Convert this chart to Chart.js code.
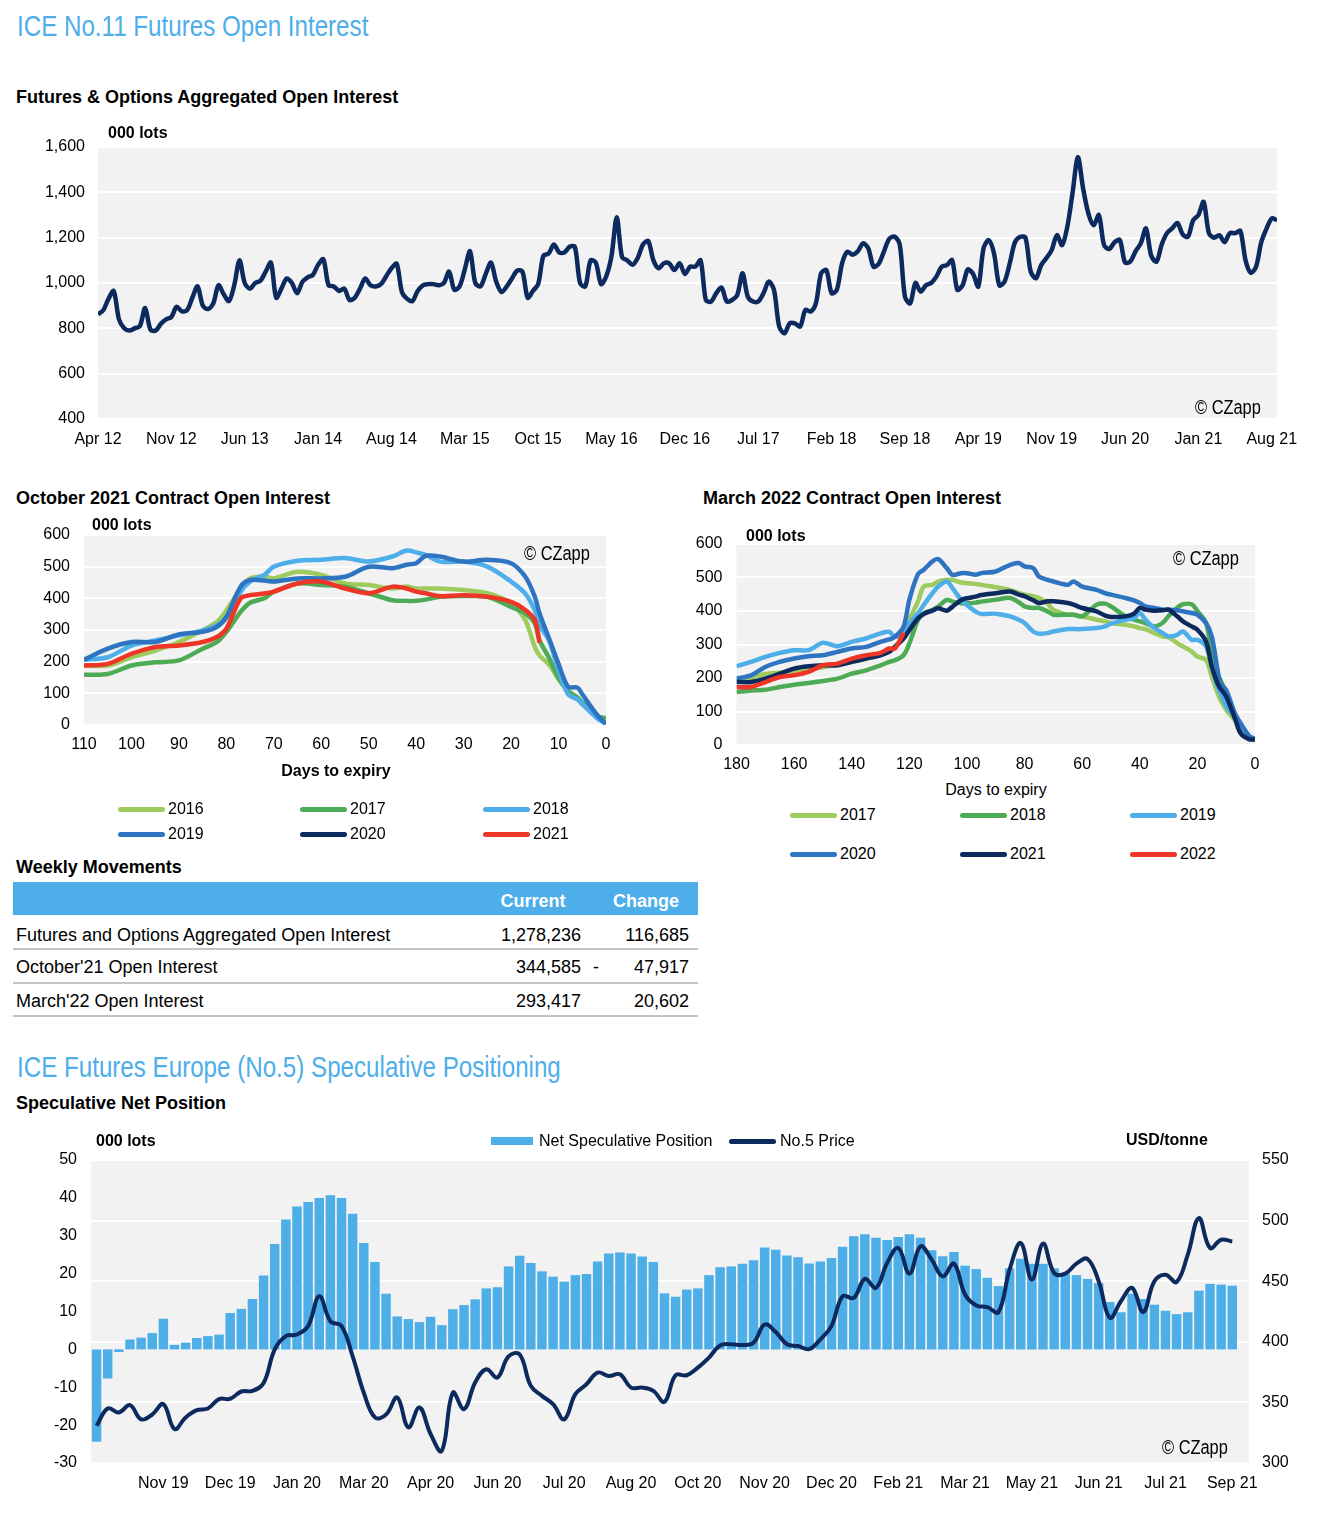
<!DOCTYPE html>
<html>
<head>
<meta charset="utf-8">
<script src="https://cdn.jsdelivr.net/npm/chart.js@4.4.1/dist/chart.umd.min.js"></script>
<style>
  body { margin: 0; background: #fff; }
  #page { position: relative; width: 1318px; height: 1532px; overflow: hidden;
          font-family: "Liberation Sans", Arial, sans-serif; color: #000; }
  .t { position: absolute; white-space: nowrap; line-height: 1; transform: translateY(-50%); }
  .r { transform: translate(-100%, -50%); }
  .c { transform: translate(-50%, -50%); }
  .h1 { font-size: 29px; color: #4DAEEA; transform-origin: 0 50%; transform: translateY(-50%) scaleX(0.833); }
  .h2 { font-weight: bold; font-size: 18px; }
  .u { font-weight: bold; font-size: 16px; }
  .n { font-size: 16px; }
  .cz { font-size: 20px; transform-origin: 0 50%; transform: translateY(-50%) scaleX(0.82); }
  .tb { font-size: 18px; }
  .sw { position: absolute; border-radius: 3px; }
  canvas { position: absolute; }
</style>
</head>
<body>
<div id="page">
  <canvas id="oiChart" width="1318" height="340" style="left:0;top:120px"></canvas>
  <canvas id="octChart" width="650" height="260" style="left:0;top:510px"></canvas>
  <canvas id="marChart" width="638" height="260" style="left:680px;top:520px"></canvas>
  <canvas id="specChart" width="1318" height="360" style="left:0;top:1140px"></canvas>
</div>
<script>
// ---- aggregated open interest, 000 lots, half-monthly from Apr 12
const oiTickLabels = ['Apr 12', 'Nov 12', 'Jun 13', 'Jan 14', 'Aug 14', 'Mar 15', 'Oct 15', 'May 16', 'Dec 16',
  'Jul 17', 'Feb 18', 'Sep 18', 'Apr 19', 'Nov 19', 'Jun 20', 'Jan 21', 'Aug 21']
const oiLots = [
  862, 880, 930, 965, 840, 800, 790, 800, 810, 890,
  795, 790, 820, 840, 850, 895, 875, 880, 935, 985,
  900, 885, 910, 990, 950, 920, 990, 1100, 1000, 975,
  1000, 1010, 1050, 1090, 935, 975, 1020, 1000, 955, 1005,
  1025, 1035, 1080, 1105, 990, 985, 965, 975, 925, 935,
  975, 1020, 990, 985, 995, 1030, 1065, 1085, 960, 930,
  920, 965, 990, 995, 995, 990, 1000, 1050, 970, 985,
  1060, 1140, 1000, 985, 1040, 1090, 1005, 960, 985, 1020,
  1055, 1050, 935, 965, 995, 1120, 1130, 1170, 1135, 1135,
  1160, 1160, 1000, 985, 1100, 1090, 995, 1030, 1120, 1290,
  1115, 1100, 1080, 1110, 1170, 1185, 1100, 1065, 1087, 1087,
  1057, 1087, 1040, 1072, 1072, 1100, 925, 918, 955, 980,
  918, 925, 947, 1043, 940, 918, 918, 955, 1006, 970,
  808, 778, 822, 822, 808, 881, 874, 910, 1043, 1057,
  955, 970, 1087, 1138, 1125, 1140, 1175, 1153, 1072, 1085,
  1140, 1195, 1205, 1170, 940, 910, 1000, 962, 990, 1000,
  1028, 1072, 1079, 1101, 970, 990, 1060, 1040, 984, 1153,
  1189, 1130, 990, 1006, 1087, 1180, 1204, 1200, 1050, 1021,
  1079, 1110, 1145, 1211, 1167, 1250, 1400, 1555, 1417, 1307,
  1255, 1300, 1167, 1150, 1180, 1190, 1090, 1095, 1140, 1175,
  1241, 1120, 1094, 1170, 1220, 1241, 1265, 1215, 1204, 1277,
  1300, 1358, 1220, 1200, 1211, 1180, 1220, 1220, 1230, 1100,
  1045, 1072, 1180, 1240, 1285, 1277
]

// ---- October 2021 contract, 000 lots by days to expiry
const octDays = [110, 105, 100, 95, 90, 85, 82, 80, 77, 75, 72, 70, 65, 60, 55, 50, 45, 42, 40, 38, 35, 30, 25, 20, 17, 15, 14, 12, 10, 8, 6, 5, 2, 0]
const octYears = ['2016', '2017', '2018', '2019', '2020', '2021']
const oct2016 = [188, 188, 214, 235, 262, 299, 325, 362, 431, 463, 469, 463, 484, 474, 447, 442, 431, 437, 431, 431, 431, 426, 416, 384, 331, 246, 219, 191, 145, 108, 82, 66, 29, 18]
const oct2017 = [159, 161, 188, 198, 204, 241, 262, 294, 357, 386, 400, 421, 447, 442, 437, 416, 394, 392, 392, 396, 405, 407, 405, 373, 352, 320, 267, 212, 148, 108, 87, 71, 29, 21]
const oct2018 = [206, 214, 251, 267, 283, 299, 315, 339, 421, 453, 474, 500, 519, 522, 527, 516, 532, 551, 545, 537, 516, 516, 500, 453, 415, 362, 315, 267, 172, 97, 81, 66, 23, 4]
const oct2019 = [206, 241, 262, 262, 286, 294, 310, 341, 437, 458, 456, 453, 463, 463, 468, 500, 495, 506, 511, 534, 532, 516, 522, 511, 468, 405, 352, 273, 193, 121, 118, 97, 34, 2]
const oct2020 = []
const oct2021 = [188, 193, 225, 246, 251, 262, 278, 304, 400, 410, 415, 421, 447, 453, 431, 416, 437, 431, 421, 416, 407, 410, 405, 389, 363, 331, 260]

// ---- March 2022 contract, 000 lots by days to expiry
const marDays = [180, 175, 170, 165, 160, 155, 150, 145, 140, 135, 130, 127, 125, 122, 120, 117, 115, 112, 110, 107, 105, 102, 100, 97, 95,
  90, 85, 82, 80, 77, 75, 72, 70, 65, 63, 60, 55, 52, 50, 45, 42, 40, 38, 35, 32, 30, 27, 25, 22, 20, 17, 15, 13, 12, 10, 7, 5, 2, 0]
const marYears = ['2017', '2018', '2019', '2020', '2021', '2022']
const mar2017 = [190, 200, 212, 216, 222, 228, 232, 241, 248, 258, 273, 283, 293, 323, 373, 428, 473, 478, 488, 493, 493, 485, 483, 481, 478,
  471, 463, 454, 449, 444, 439, 422, 404, 389, 389, 384, 374, 369, 364, 359, 354, 349, 346, 334, 324, 322, 304, 294, 279, 264, 254, 204, 155, 135, 105, 75, 55, 25, 20]
const mar2018 = [158, 163, 165, 173, 180, 185, 191, 198, 213, 223, 238, 248, 253, 268, 303, 373, 393, 403, 413, 433, 428, 423, 423, 425, 428,
  434, 439, 426, 414, 409, 409, 399, 389, 389, 389, 384, 419, 422, 414, 384, 374, 369, 364, 354, 365, 385, 410, 420, 420, 400, 364, 274, 214, 194, 155, 85, 50, 20, 15]
const mar2019 = [235, 248, 263, 275, 283, 283, 305, 295, 308, 318, 333, 338, 323, 333, 363, 393, 418, 453, 473, 488, 468, 433, 418, 398, 391,
  392, 384, 374, 364, 339, 332, 334, 339, 346, 346, 346, 349, 354, 362, 374, 379, 394, 374, 349, 334, 324, 329, 339, 314, 314, 294, 234, 174, 155, 115, 85, 60, 25, 15]
const mar2020 = [198, 208, 233, 248, 258, 265, 268, 278, 288, 293, 308, 315, 323, 353, 433, 510, 523, 548, 555, 528, 508, 513, 513, 508, 513,
  518, 538, 543, 533, 528, 503, 493, 488, 478, 488, 473, 463, 453, 449, 439, 432, 424, 414, 409, 404, 404, 402, 399, 394, 389, 364, 324, 224, 184, 164, 95, 65, 27, 17]
const mar2021 = [188, 188, 198, 213, 228, 235, 238, 238, 248, 258, 268, 278, 293, 318, 343, 378, 391, 401, 408, 401, 413, 433, 438, 443, 448,
  453, 458, 449, 444, 432, 424, 429, 429, 424, 419, 409, 399, 386, 382, 384, 392, 409, 404, 401, 402, 404, 384, 369, 354, 344, 309, 234, 184, 169, 145, 80, 35, 17, 17]
const mar2022 = [173, 173, 188, 203, 208, 218, 238, 243, 258, 268, 275, 288, 288, 335]

// ---- No.5 speculative positioning, weekly
const specTickLabels = ['Nov 19', 'Dec 19', 'Jan 20', 'Mar 20', 'Apr 20', 'Jun 20', 'Jul 20', 'Aug 20', 'Oct 20',
  'Nov 20', 'Dec 20', 'Feb 21', 'Mar 21', 'May 21', 'Jun 21', 'Jul 21', 'Sep 21']
const specNet = [
  -24.4, -7.7, -0.7, 2.6, 3.1, 4.3, 8.1, 1.2, 1.8, 3.0, 3.5, 3.9, 9.6, 10.7, 13.3, 19.5, 27.8, 34.3, 37.7, 38.9,
  40.0, 40.7, 40.0, 35.8, 28.1, 23.1, 14.7, 8.7, 8.0, 7.2, 8.6, 6.4, 10.6, 11.7, 13.2, 16.1, 16.4, 21.9, 24.7, 22.8,
  20.6, 19.2, 17.9, 19.6, 19.9, 23.2, 25.3, 25.6, 25.3, 24.5, 23.1, 14.8, 13.9, 15.8, 16.1, 19.6, 21.7, 21.9, 22.6, 23.5,
  26.9, 26.3, 24.8, 24.3, 22.7, 23.2, 24.1, 27.1, 29.9, 30.4, 29.5, 28.9, 29.7, 30.4, 29.5, 26.2, 24.6, 25.7, 22.1, 21.2,
  18.9, 16.7, 21.4, 23.9, 22.6, 22.6, 21.4, 20.0, 19.6, 18.6, 17.5, 12.5, 9.8, 14.7, 13.3, 11.8, 10.2, 9.3, 9.8, 15.5,
  17.3, 17.1, 16.8
]
const no5Price = [
  330.7, 345, 341.7, 347.7, 336, 340, 348.5, 328, 337.6, 343.6, 345, 352.7, 353, 359, 359.5, 366, 393.8, 404.7, 406, 413,
  437.6, 417, 413, 388, 358, 337.6, 340, 354, 329.4, 345.8, 323.9, 310, 358, 344.4, 366.4, 377.3, 370.5, 388, 389.6, 363.6,
  355.4, 348.5, 336, 356.8, 365, 374.6, 371.8, 373.2, 362.2, 362.2, 359.5, 350.5, 372.4, 372.4, 378.7, 387, 397, 398, 397.3, 399.2,
  414.3, 408, 398, 396.5, 394, 402, 413, 437.6, 436.2, 451.9, 444.5, 465, 477.4, 456.3, 478.7, 467.8, 454, 464.5, 439, 430,
  428.6, 424.5, 459.5, 481.5, 451.3, 481, 456.8, 456.3, 464.5, 468.3, 450, 419.8, 433.5, 444.5, 424.5, 450, 455.4, 449.4, 471.9, 502,
  477.4, 484.2, 482.8
]

const weeklyRows = [
  ['Futures and Options Aggregated Open Interest', '1,278,236', '', '116,685'],
  ["October'21 Open Interest", '344,585', '-', '47,917'],
  ["March'22 Open Interest", '293,417', '', '20,602']
]

const NAVY = '#0C2A5E'
const BLUE = '#4DAEE8'
// colours go by position in each chart, oldest year first
const palette = ['#9DCB5E', '#4DAA55', '#4DAEEA', '#2E74C0', '#0C2A5E', '#EE3526']

Chart.defaults.font.family = '"Liberation Sans", Arial, sans-serif'
Chart.defaults.font.size = 16
Chart.defaults.color = '#000'

const plotBg = {
  id: 'plotBg',
  beforeDraw (chart) {
    const { ctx, chartArea } = chart
    ctx.save()
    ctx.fillStyle = '#F2F2F2'
    ctx.fillRect(chartArea.left, chartArea.top, chartArea.width, chartArea.height)
    ctx.restore()
  }
}

const page = document.getElementById('page')

function text (str, x, y, cls) {
  const el = document.createElement('div')
  el.className = 't ' + cls
  el.style.left = x + 'px'
  el.style.top = y + 'px'
  el.textContent = str
  page.appendChild(el)
  return el
}

function box (x, y, w, h, color, cls) {
  const el = document.createElement('div')
  el.className = cls || ''
  el.style.cssText += `position:absolute;left:${x}px;top:${y}px;width:${w}px;height:${h}px;background:${color}`
  page.appendChild(el)
  return el
}

// fixed axis sizes, and no extra room for labels that hang over the plot
function fixSize (size) {
  return (s) => {
    if (s.isHorizontal()) s.height = size
    else s.width = size
    s.paddingTop = s.paddingBottom = s.paddingLeft = s.paddingRight = 0
  }
}

function gridAxis (min, max, step, width, padding) {
  return {
    min, max,
    ticks: { stepSize: step, padding, callback: (v) => v.toLocaleString('en-US') },
    grid: { color: '#fff', lineWidth: 2, drawTicks: false },
    border: { display: false },
    afterFit: fixSize(width)
  }
}

function yearSeries (days, years, values) {
  return years.map((year, i) => ({
    label: year,
    data: values[i].map((v, j) => ({ x: days[j], y: v })),
    borderColor: palette[i],
    borderWidth: 4.5,
    pointRadius: 0,
    tension: 0.3,
    order: years.length - i
  }))
}

function yearLegend (years, cols, rows) {
  years.forEach((year, i) => {
    const x = cols[i % 3]
    const y = rows[Math.floor(i / 3)]
    box(x, y - 2.5, 47, 5, palette[i], 'sw')
    text(year, x + 50, y, 'n')
  })
}

function daysChart (id, days, years, values, maxDay, geo) {
  return new Chart(document.getElementById(id), {
    type: 'line',
    data: { datasets: yearSeries(days, years, values) },
    plugins: [plotBg],
    options: {
      responsive: false,
      animation: false,
      layout: { padding: { top: geo.top, right: geo.right, left: 0, bottom: 0 } },
      plugins: { legend: { display: false }, tooltip: { enabled: false } },
      scales: {
        x: {
          type: 'linear', min: 0, max: maxDay, reverse: true,
          ticks: { stepSize: geo.step, padding: 10, maxRotation: 0 },
          grid: { display: false, drawTicks: false },
          border: { display: false },
          afterFit: fixSize(geo.xh)
        },
        y: gridAxis(0, 600, 100, geo.yw, 14)
      }
    }
  })
}

// ---- headings
text('ICE No.11 Futures Open Interest', 17, 26, 'h1')
text('Futures & Options Aggregated Open Interest', 16, 97, 'h2')
text('October 2021 Contract Open Interest', 16, 498, 'h2')
text('March 2022 Contract Open Interest', 703, 498, 'h2')
text('Weekly Movements', 16, 867, 'h2')
text('ICE Futures Europe (No.5) Speculative Positioning', 17, 1067, 'h1')
text('Speculative Net Position', 16, 1103, 'h2')

// ---- aggregated open interest chart
new Chart(document.getElementById('oiChart'), {
  type: 'line',
  data: {
    datasets: [{
      data: oiLots.map((v, i) => ({ x: i, y: v })),
      borderColor: NAVY,
      borderWidth: 4.5,
      pointRadius: 0,
      tension: 0.3
    }]
  },
  plugins: [plotBg],
  options: {
    responsive: false,
    animation: false,
    layout: { padding: { top: 27, right: 41, left: 0, bottom: 0 } },
    plugins: { legend: { display: false }, tooltip: { enabled: false } },
    scales: {
      x: {
        type: 'linear', min: 0, max: oiLots.length - 1,
        afterBuildTicks: (a) => { a.ticks = oiTickLabels.map((l, i) => ({ value: i * 14 })) },
        ticks: { autoSkip: false, maxRotation: 0, padding: 11, callback: (v) => oiTickLabels[v / 14] },
        grid: { display: false, drawTicks: false },
        border: { display: false },
        afterFit: fixSize(41)
      },
      y: gridAxis(400, 1600, 200, 98, 13)
    }
  }
})
text('000 lots', 108, 133, 'u')
text('© CZapp', 1195, 407, 'cz')

// ---- October 2021 contract
daysChart('octChart', octDays, octYears, [oct2016, oct2017, oct2018, oct2019, oct2020, oct2021], 110,
  { top: 25, right: 44, xh: 45, yw: 84, step: 10 })
text('000 lots', 92, 525, 'u')
text('© CZapp', 524, 553, 'cz')
text('Days to expiry', 336, 771, 'u c')
yearLegend(octYears, [118, 300, 483], [809, 834])

// ---- March 2022 contract
daysChart('marChart', marDays, marYears, [mar2017, mar2018, mar2019, mar2020, mar2021, mar2022], 180,
  { top: 24, right: 63, xh: 35, yw: 56.5, step: 20 })
text('000 lots', 746, 536, 'u')
text('© CZapp', 1173, 558, 'cz')
text('Days to expiry', 996, 790, 'n c')
yearLegend(marYears, [790, 960, 1130], [815, 854])

// ---- weekly movements table
box(13, 882, 685, 33, '#4DAEEA')
text('Current', 533, 901, 'h2 c').style.color = '#fff'
text('Change', 646, 901, 'h2 c').style.color = '#fff'
weeklyRows.forEach((row, i) => {
  const y = [935, 967, 1001][i]
  text(row[0], 16, y, 'tb')
  text(row[1], 581, y, 'tb r')
  if (row[2]) text(row[2], 596, y, 'tb c')
  text(row[3], 689, y, 'tb r')
  box(13, [948, 982, 1015][i], 685, 2, '#C4C4C4')
})

// ---- speculative positioning
new Chart(document.getElementById('specChart'), {
  type: 'bar',
  data: {
    labels: Array.from({ length: specNet.length + 1 }, (_, i) => i),
    datasets: [
      {
        type: 'line',
        label: 'No.5 Price',
        data: no5Price,
        yAxisID: 'yR',
        borderColor: NAVY,
        borderWidth: 4,
        pointRadius: 0,
        tension: 0.4,
        order: 1
      },
      {
        label: 'Net Speculative Position',
        data: specNet,
        yAxisID: 'yL',
        backgroundColor: BLUE,
        barPercentage: 0.85,
        categoryPercentage: 1,
        order: 2
      }
    ]
  },
  plugins: [plotBg],
  options: {
    responsive: false,
    animation: false,
    layout: { padding: { top: 20, right: 0, left: 0, bottom: 0 } },
    plugins: { legend: { display: false }, tooltip: { enabled: false } },
    scales: {
      x: {
        ticks: {
          autoSkip: false, maxRotation: 0, padding: 11,
          callback: (v, i) => (i > 0 && i % 6 === 0 ? specTickLabels[i / 6 - 1] : '')
        },
        grid: { display: false, drawTicks: false },
        border: { display: false },
        afterFit: fixSize(37)
      },
      yL: {
        position: 'left', min: -30, max: 50,
        ticks: { stepSize: 10, padding: 14 },
        grid: { display: false, drawTicks: false },
        border: { display: false },
        afterFit: fixSize(91)
      },
      yR: {
        position: 'right', min: 300, max: 550,
        ticks: { stepSize: 50, padding: 13 },
        grid: { color: '#fff', lineWidth: 2, drawTicks: false },
        border: { display: false },
        afterFit: fixSize(69)
      }
    }
  }
})
text('000 lots', 96, 1141, 'u')
text('USD/tonne', 1126, 1140, 'u')
box(491, 1137, 42, 8, BLUE)
text('Net Speculative Position', 539, 1141, 'n')
box(729, 1138.5, 47, 5, NAVY, 'sw')
text('No.5 Price', 780, 1141, 'n')
text('© CZapp', 1162, 1447, 'cz')
</script>
</body>
</html>
